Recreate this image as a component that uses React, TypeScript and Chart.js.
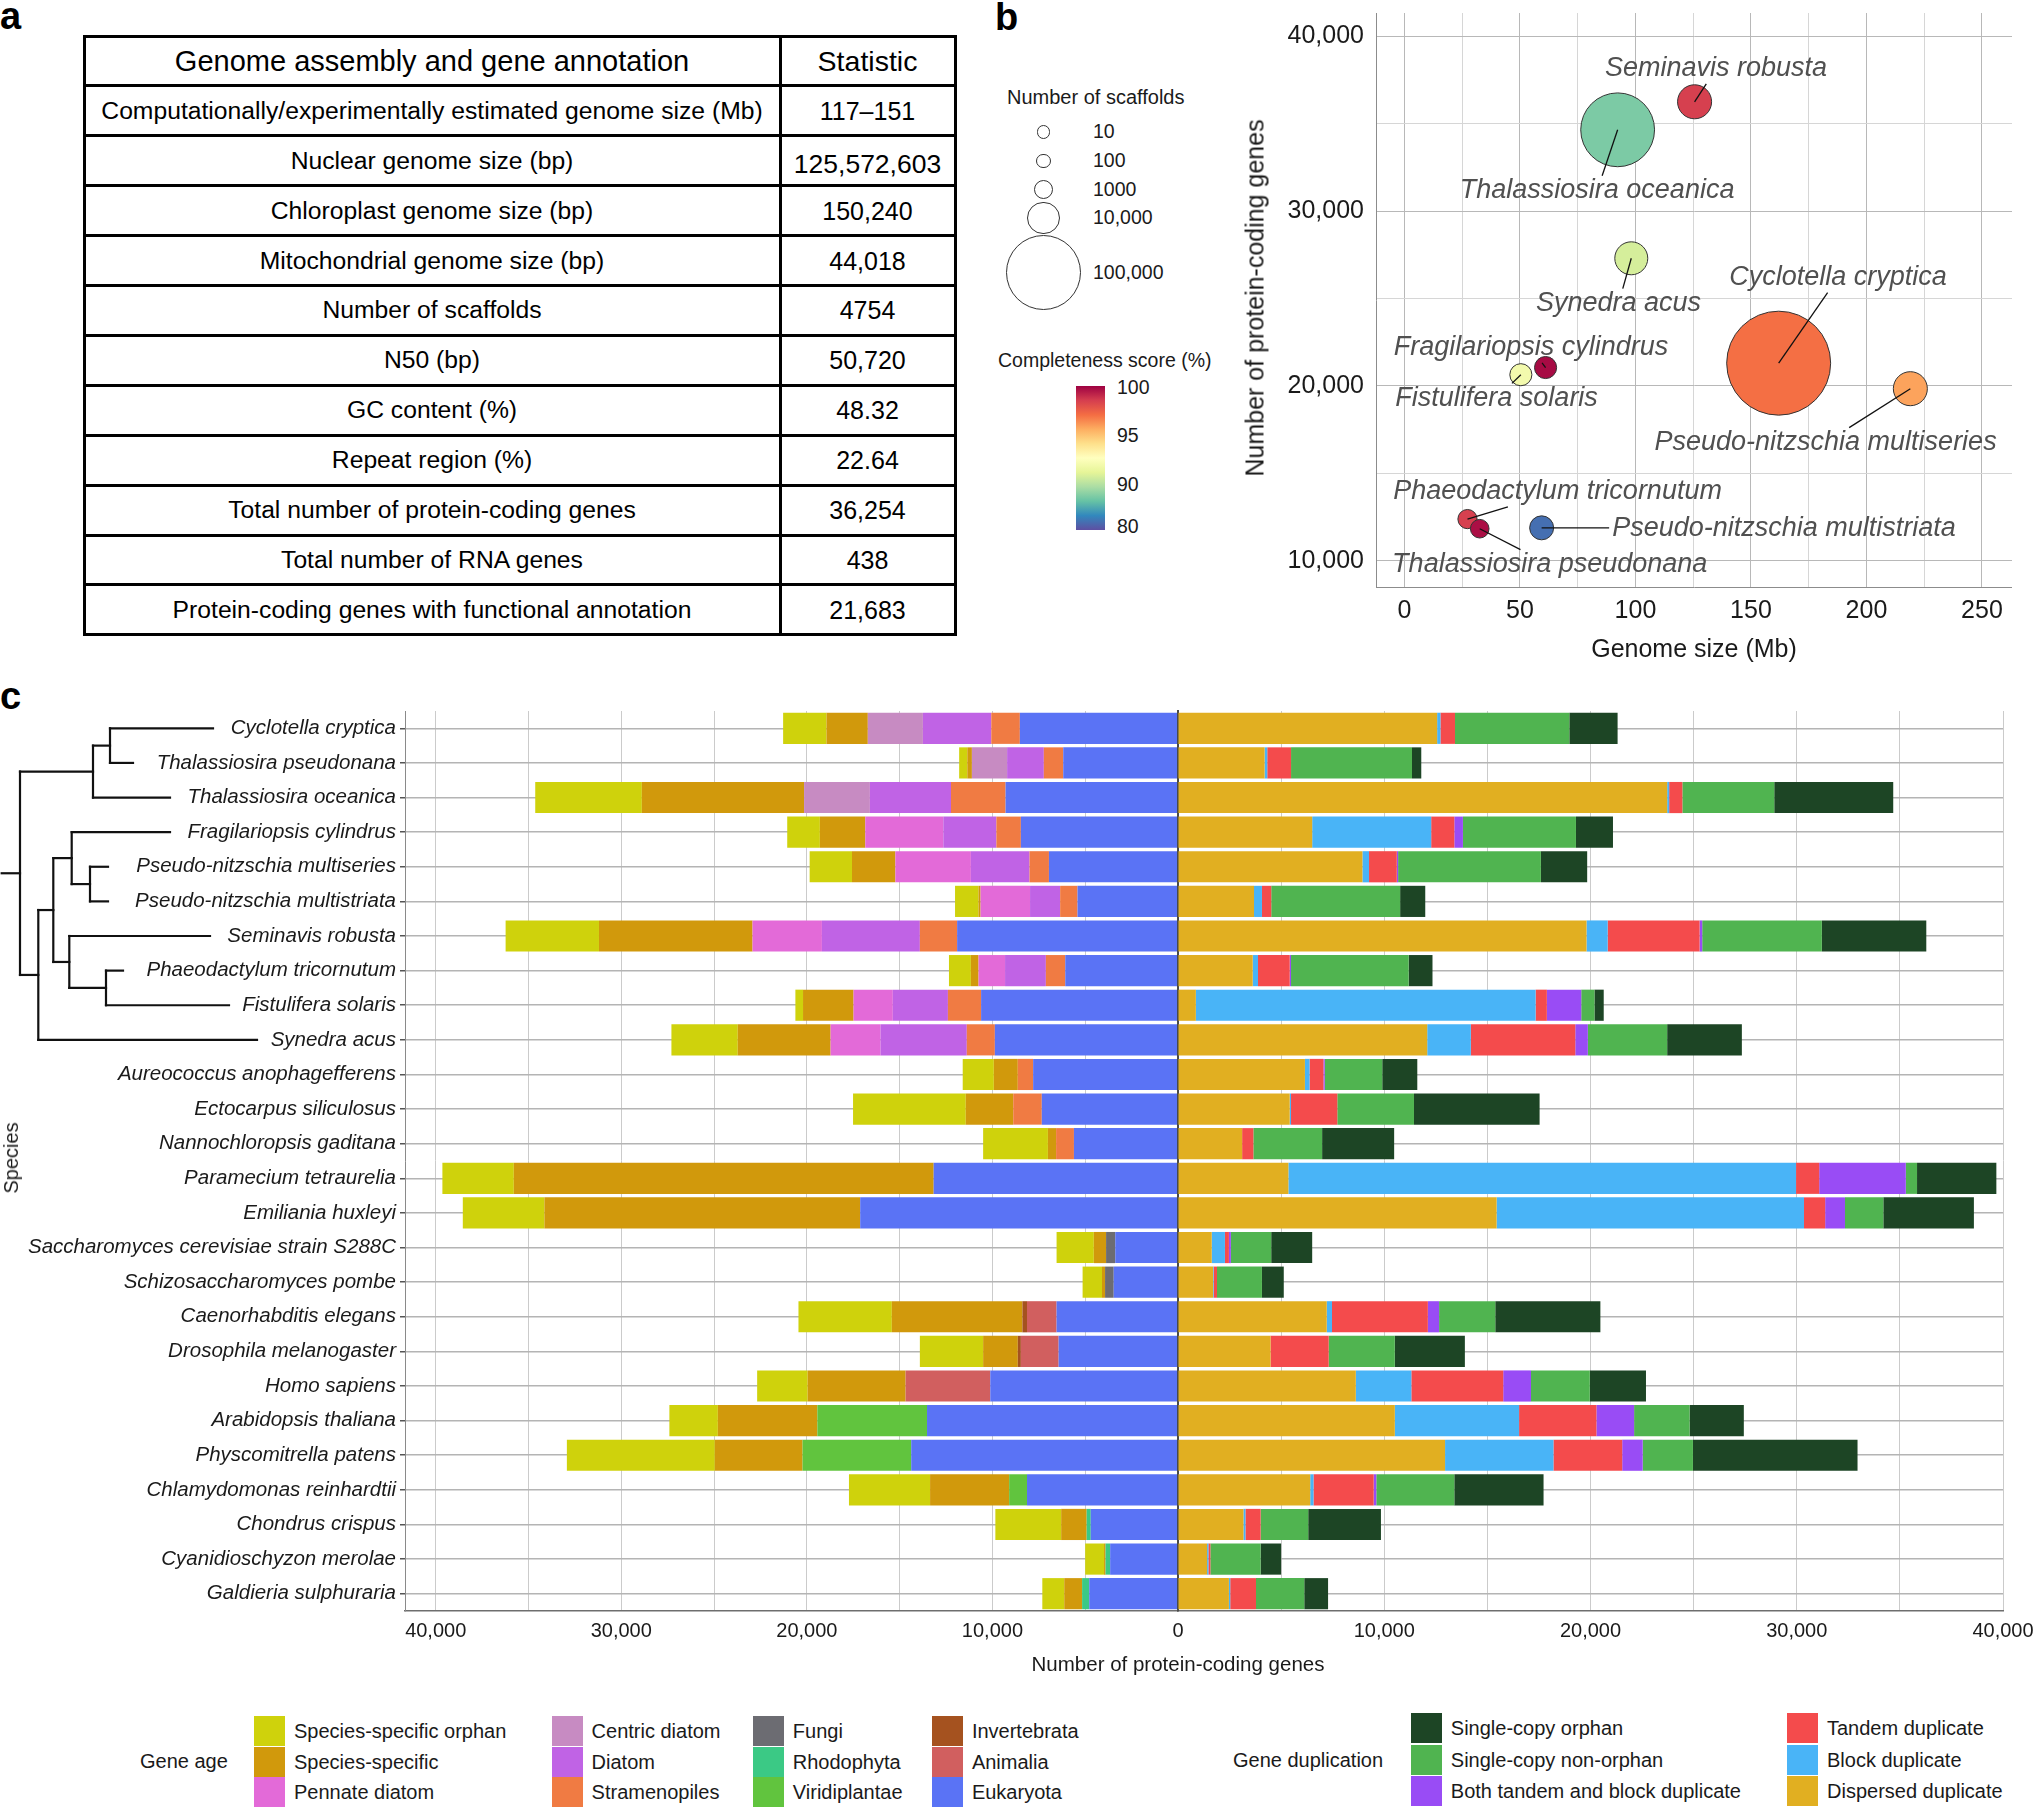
import React, { useEffect, useRef } from "react";
import { Chart, registerables } from "chart.js";

Chart.register(...registerables);

const FONT = '"Liberation Sans", Arial, Helvetica, sans-serif';
Chart.defaults.font.family = FONT;
Chart.defaults.color = "#1a1a1a";

const fmt = (v: number) => String(Math.round(v)).replace(/\B(?=(\d{3})+(?!\d))/g, ",");
const range = (a: number, b: number, step: number) => {
  const out: number[] = [];
  for (let v = a; v <= b + 1e-9; v += step) out.push(v);
  return out;
};

// ---------------- Panel a : table ----------------
const TABLE_HEADER = ["Genome assembly and gene annotation", "Statistic"];
const TABLE_ITEMS = [
  "Computationally/experimentally estimated genome size (Mb)",
  "Nuclear genome size (bp)",
  "Chloroplast genome size (bp)",
  "Mitochondrial genome size (bp)",
  "Number of scaffolds",
  "N50 (bp)",
  "GC content (%)",
  "Repeat region (%)",
  "Total number of protein-coding genes",
  "Total number of RNA genes",
  "Protein-coding genes with functional annotation",
];
const TABLE_VALUES = ["117–151", "125,572,603", "150,240", "44,018", "4754", "50,720", "48.32", "22.64", "36,254", "438", "21,683"];

// ---------------- Panel b : bubble chart ----------------
const B_SPECIES = [
  "Seminavis robusta",
  "Thalassiosira oceanica",
  "Synedra acus",
  "Cyclotella cryptica",
  "Pseudo-nitzschia multiseries",
  "Fragilariopsis cylindrus",
  "Fistulifera solaris",
  "Phaeodactylum tricornutum",
  "Thalassiosira pseudonana",
  "Pseudo-nitzschia multistriata",
];
const B_GENOME_MB = [125.6, 92.3, 98.2, 162.0, 219.0, 61.1, 50.4, 27.3, 32.6, 59.4];
const B_GENES = [36254, 34650, 27300, 21300, 19840, 21050, 20640, 12380, 11830, 11880];
const B_SCAFFOLDS = [11500, 95000, 10400, 212000, 11500, 2200, 2200, 1050, 860, 3200];
const B_COMPLETENESS = [98.7, 87.3, 90.9, 97.2, 96.0, 100, 92.1, 98.7, 99.9, 81.3];
// label placement (data units) for the repelled labels
const B_LABEL_X = [134.9, 83.4, 92.7, 187.7, 182.3, 54.8, 39.9, 66.3, 62.9, 164.3];
const B_LABEL_Y = [38141, 31161, 24703, 26190, 16756, 22180, 19285, 13936, 9777, 11859];
const B_X_TICKS = range(0, 250, 25);
const B_Y_TICKS = range(10000, 40000, 5000);

const SIZE_LEGEND = [10, 100, 1000, 10000, 100000];
const COMPLETENESS_BREAKS = [80, 90, 95, 100];
const COMPLETENESS_POS = [0.018, 0.31, 0.65, 0.983];
const SPECTRAL = ["#5e4fa2", "#3288bd", "#66c2a5", "#abdda4", "#e6f598", "#ffffbf", "#fee08b", "#fdae61", "#f46d43", "#d53e4f", "#9e0142"];

const bubbleRadius = (n: number) => 6.4 + 0.099 * Math.sqrt(n);

function hexToRgb(h: string) {
  const n = parseInt(h.slice(1), 16);
  return [(n >> 16) & 255, (n >> 8) & 255, n & 255];
}
function spectralAt(p: number) {
  const q = Math.max(0, Math.min(1, p)) * (SPECTRAL.length - 1);
  const i = Math.min(SPECTRAL.length - 2, Math.floor(q));
  const f = q - i;
  const a = hexToRgb(SPECTRAL[i]);
  const b = hexToRgb(SPECTRAL[i + 1]);
  const c = a.map((v, k) => Math.round(v + (b[k] - v) * f));
  return `rgb(${c[0]},${c[1]},${c[2]})`;
}
function completenessPos(v: number) {
  const B = COMPLETENESS_BREAKS;
  const P = COMPLETENESS_POS;
  if (v <= B[0]) return P[0];
  for (let i = 0; i < B.length - 1; i++) {
    if (v <= B[i + 1]) return P[i] + ((v - B[i]) / (B[i + 1] - B[i])) * (P[i + 1] - P[i]);
  }
  return P[P.length - 1];
}
const colorOf = (v: number) => spectralAt(completenessPos(v));

// ---------------- Panel c : stacked bars ----------------
const SPECIES = [
  "Cyclotella cryptica",
  "Thalassiosira pseudonana",
  "Thalassiosira oceanica",
  "Fragilariopsis cylindrus",
  "Pseudo-nitzschia multiseries",
  "Pseudo-nitzschia multistriata",
  "Seminavis robusta",
  "Phaeodactylum tricornutum",
  "Fistulifera solaris",
  "Synedra acus",
  "Aureococcus anophagefferens",
  "Ectocarpus siliculosus",
  "Nannochloropsis gaditana",
  "Paramecium tetraurelia",
  "Emiliania huxleyi",
  "Saccharomyces cerevisiae strain S288C",
  "Schizosaccharomyces pombe",
  "Caenorhabditis elegans",
  "Drosophila melanogaster",
  "Homo sapiens",
  "Arabidopsis thaliana",
  "Physcomitrella patens",
  "Chlamydomonas reinhardtii",
  "Chondrus crispus",
  "Cyanidioschyzon merolae",
  "Galdieria sulphuraria",
];

// gene age (left side), stacked from 0 outward
const EUKARYOTA = [8522, 6185, 9292, 8467, 6955, 5416, 11903, 6075, 10611, 9869, 7807, 7340, 5608, 13167, 17126, 3381, 3464, 6543, 6433, 10116, 13525, 14377, 8137, 4701, 3656, 4783];
const VIRIDIPLANTAE = [0, 0, 0, 0, 0, 0, 0, 0, 0, 0, 0, 0, 0, 0, 0, 0, 0, 0, 0, 0, 5910, 5855, 962, 0, 0, 0];
const RHODOPHYTA = [0, 0, 0, 0, 0, 0, 0, 0, 0, 0, 0, 0, 0, 0, 0, 0, 0, 0, 0, 0, 0, 0, 0, 220, 247, 385];
const FUNGI = [0, 0, 0, 0, 0, 0, 0, 0, 0, 0, 0, 0, 0, 0, 0, 495, 467, 0, 0, 0, 0, 0, 0, 0, 0, 0];
const ANIMALIA = [0, 0, 0, 0, 0, 0, 0, 0, 0, 0, 0, 0, 0, 0, 0, 0, 0, 1594, 2034, 4563, 0, 0, 0, 0, 0, 0];
const INVERTEBRATA = [0, 0, 0, 0, 0, 0, 0, 0, 0, 0, 0, 0, 0, 0, 0, 0, 0, 247, 165, 0, 0, 0, 0, 0, 0, 0];
const STRAMENOPILES = [1540, 1045, 2941, 1320, 1045, 935, 2007, 1045, 1787, 1512, 825, 1539, 962, 0, 0, 0, 0, 0, 0, 0, 0, 0, 0, 0, 0, 0];
const DIATOM = [3684, 1979, 4371, 2859, 3161, 1622, 5278, 2199, 2969, 4646, 0, 0, 0, 0, 0, 0, 0, 0, 0, 0, 0, 0, 0, 0, 0, 0];
const CENTRIC_DIATOM = [2969, 1897, 3546, 0, 0, 0, 0, 0, 0, 0, 0, 0, 0, 0, 0, 0, 0, 0, 0, 0, 0, 0, 0, 0, 0, 0];
const PENNATE_DIATOM = [0, 0, 0, 4206, 4069, 2667, 3739, 1429, 2117, 2694, 0, 0, 0, 0, 0, 0, 0, 0, 0, 0, 0, 0, 0, 0, 0, 0];
const SPECIES_SPECIFIC = [2227, 247, 8742, 2447, 2337, 110, 8275, 412, 2722, 5003, 1292, 2557, 440, 22624, 17016, 660, 165, 7037, 1869, 5278, 5361, 4728, 4261, 1375, 82, 962];
const SPECIES_SPECIFIC_ORPHAN = [2337, 440, 5745, 1759, 2282, 1265, 5031, 1182, 412, 3574, 1677, 6075, 3491, 3849, 4398, 2007, 1045, 5031, 3409, 2722, 2612, 7972, 4371, 3546, 1017, 1182];

// gene duplication (right side), stacked from 0 outward
const DISPERSED = [12564, 4199, 23717, 6506, 8942, 3686, 19807, 3622, 865, 12083, 6154, 5416, 3109, 5352, 15448, 1635, 1699, 7211, 4487, 8621, 10512, 12948, 6410, 3173, 1410, 2468];
const BLOCK = [160, 128, 96, 5769, 320, 385, 1026, 256, 16474, 2115, 224, 64, 0, 24614, 14903, 641, 32, 256, 0, 2692, 6025, 5256, 160, 96, 64, 64];
const TANDEM = [705, 1154, 641, 1122, 1346, 449, 4455, 1538, 545, 5064, 673, 2244, 545, 1122, 1026, 192, 160, 4647, 2820, 4455, 3750, 3333, 2917, 737, 96, 1250];
const BOTH = [0, 0, 0, 417, 64, 0, 128, 64, 1667, 609, 64, 0, 0, 4199, 962, 96, 0, 545, 0, 1346, 1827, 994, 128, 0, 0, 0];
const SINGLE_NON_ORPHAN = [5545, 5865, 4455, 5481, 6923, 6250, 5801, 5705, 641, 3846, 2788, 3718, 3333, 545, 1859, 1955, 2179, 2724, 3205, 2852, 2692, 2436, 3782, 2308, 2436, 2340];
const SINGLE_ORPHAN = [2340, 449, 5769, 1795, 2244, 1218, 5064, 1154, 449, 3622, 1699, 6090, 3493, 3846, 4391, 1987, 1058, 5096, 3397, 2724, 2628, 7980, 4327, 3526, 994, 1154];

const LEFT_MAX = 41655;
const RIGHT_MAX = 40000;
const BAR_TICKS = range(0, 40000, 5000);

const AGE_SERIES: [string, number[], string][] = [
  ["Eukaryota", EUKARYOTA, "#5a73f5"],
  ["Viridiplantae", VIRIDIPLANTAE, "#61c43e"],
  ["Rhodophyta", RHODOPHYTA, "#3bc985"],
  ["Fungi", FUNGI, "#6c6c72"],
  ["Animalia", ANIMALIA, "#d15f5f"],
  ["Invertebrata", INVERTEBRATA, "#a5521f"],
  ["Stramenopiles", STRAMENOPILES, "#f07b43"],
  ["Diatom", DIATOM, "#c063e5"],
  ["Centric diatom", CENTRIC_DIATOM, "#c78bc2"],
  ["Pennate diatom", PENNATE_DIATOM, "#e36ad8"],
  ["Species-specific", SPECIES_SPECIFIC, "#d1990c"],
  ["Species-specific orphan", SPECIES_SPECIFIC_ORPHAN, "#cfd20c"],
];
const DUP_SERIES: [string, number[], string][] = [
  ["Dispersed duplicate", DISPERSED, "#e1af21"],
  ["Block duplicate", BLOCK, "#49b4f7"],
  ["Tandem duplicate", TANDEM, "#f44b4c"],
  ["Both tandem and block duplicate", BOTH, "#994cf5"],
  ["Single-copy non-orphan", SINGLE_NON_ORPHAN, "#50b450"],
  ["Single-copy orphan", SINGLE_ORPHAN, "#1d4525"],
];
const COLOR_BY_NAME: Record<string, string> = {};
[...AGE_SERIES, ...DUP_SERIES].forEach(([n, , c]) => (COLOR_BY_NAME[n] = c));

const AGE_LEGEND = [
  ["Species-specific orphan", "Species-specific", "Pennate diatom"],
  ["Centric diatom", "Diatom", "Stramenopiles"],
  ["Fungi", "Rhodophyta", "Viridiplantae"],
  ["Invertebrata", "Animalia", "Eukaryota"],
];
const DUP_LEGEND = [
  ["Single-copy orphan", "Single-copy non-orphan", "Both tandem and block duplicate"],
  ["Tandem duplicate", "Block duplicate", "Dispersed duplicate"],
];

// dendrogram of the diatoms (branch depth in px from left, tip = row index)
type TNode = { x: number; tip?: number; kids?: TNode[] };
const TREE: TNode = {
  x: 20,
  kids: [
    { x: 93, kids: [{ x: 110, kids: [{ x: 213, tip: 0 }, { x: 133, tip: 1 }] }, { x: 170, tip: 2 }] },
    {
      x: 38.3,
      kids: [
        {
          x: 53.3,
          kids: [
            { x: 71.7, kids: [{ x: 170, tip: 3 }, { x: 90, kids: [{ x: 108, tip: 4 }, { x: 108, tip: 5 }] }] },
            { x: 69.3, kids: [{ x: 210, tip: 6 }, { x: 106, kids: [{ x: 123, tip: 7 }, { x: 229, tip: 8 }] }] },
          ],
        },
        { x: 257, tip: 9 },
      ],
    },
  ],
};
const TREE_ROOT_X = 1.7;

// ---------------- helpers ----------------
type TextProps = {
  x: number;
  y: number;
  size: number;
  children: React.ReactNode;
  align?: "left" | "center";
  italic?: boolean;
  bold?: boolean;
  rotate?: boolean;
  color?: string;
};
function Txt({ x, y, size, children, align = "left", italic, bold, rotate, color = "#1a1a1a" }: TextProps) {
  const tx = align === "center" ? "-50%" : "0";
  return (
    <div
      style={{
        position: "absolute",
        left: x,
        top: y,
        fontSize: size,
        lineHeight: 1,
        whiteSpace: "nowrap",
        fontStyle: italic ? "italic" : "normal",
        fontWeight: bold ? "bold" : "normal",
        color,
        transform: rotate ? "translate(-50%,-50%) rotate(-90deg)" : `translate(${tx},-50%)`,
      }}
    >
      {children}
    </div>
  );
}

function useChart(ref: React.RefObject<HTMLCanvasElement>, make: () => any) {
  useEffect(() => {
    const chart = new Chart(ref.current as HTMLCanvasElement, make());
    return () => chart.destroy();
  }, []);
}

const setTicks = (values: number[]) => (s: any) => {
  s.ticks = values.map((v) => ({ value: v }));
};

// ---------------- Panel b chart ----------------
const bubbleLabelPlugin = {
  id: "bubbleLabels",
  afterDatasetsDraw(chart: any) {
    const { ctx, scales } = chart;
    const xs = scales.x;
    const ys = scales.y;
    ctx.save();
    ctx.font = `italic 27px ${FONT}`;
    ctx.textAlign = "center";
    ctx.textBaseline = "middle";
    B_SPECIES.forEach((name, i) => {
      const px = xs.getPixelForValue(B_GENOME_MB[i]);
      const py = ys.getPixelForValue(B_GENES[i]);
      const lx = xs.getPixelForValue(B_LABEL_X[i]);
      const ly = ys.getPixelForValue(B_LABEL_Y[i]);
      const w = ctx.measureText(name).width / 2 + 3;
      const h = 15;
      const dx = px - lx;
      const dy = py - ly;
      let t = 1;
      if (Math.abs(dx) > 0) t = Math.min(t, w / Math.abs(dx));
      if (Math.abs(dy) > 0) t = Math.min(t, h / Math.abs(dy));
      const ex = lx + dx * t;
      const ey = ly + dy * t;
      const dist = Math.hypot(px - ex, py - ey);
      if (t < 1 && dist > 4) {
        ctx.strokeStyle = "#111";
        ctx.lineWidth = 1.3;
        ctx.beginPath();
        ctx.moveTo(px, py);
        ctx.lineTo(ex, ey);
        ctx.stroke();
      }
      ctx.fillStyle = "#505050";
      ctx.fillText(name, lx, ly);
    });
    ctx.restore();
  },
};

function BubbleChart() {
  const ref = useRef<HTMLCanvasElement>(null);
  useChart(ref, () => ({
    type: "bubble",
    data: {
      datasets: [
        {
          data: B_SPECIES.map((_, i) => ({ x: B_GENOME_MB[i], y: B_GENES[i], r: bubbleRadius(B_SCAFFOLDS[i]) })),
          backgroundColor: B_COMPLETENESS.map(colorOf),
          borderColor: "#333333",
          borderWidth: 1,
          clip: false,
        },
      ],
    },
    options: {
      responsive: false,
      animation: false,
      devicePixelRatio: 1,
      layout: { autoPadding: false, padding: { top: 13, right: 0, left: 0, bottom: 0 } },
      plugins: { legend: { display: false }, tooltip: { enabled: false } },
      scales: {
        x: {
          type: "linear",
          min: -12.3,
          max: 263,
          afterBuildTicks: setTicks(B_X_TICKS),
          ticks: {
            autoSkip: false,
            maxRotation: 0,
            padding: 9,
            font: { size: 25 },
            color: "#1a1a1a",
            callback: (v: number) => (v % 50 === 0 ? String(v) : ""),
          },
          grid: {
            drawTicks: false,
            lineWidth: 1,
            color: (c: any) => (c.tick && c.tick.value % 50 === 0 ? "#b8b8b8" : "#d6d6d6"),
          },
          border: { color: "#8c8c8c", width: 1 },
          afterFit: (s: any) => {
            s.height = 50;
            s.paddingLeft = 0;
            s.paddingRight = 0;
          },
        },
        y: {
          type: "linear",
          min: 8495,
          max: 41333,
          afterBuildTicks: setTicks(B_Y_TICKS),
          ticks: {
            autoSkip: false,
            padding: 12,
            font: { size: 25 },
            color: "#1a1a1a",
            callback: (v: number) => (v % 10000 === 0 ? fmt(v) : ""),
          },
          grid: {
            drawTicks: false,
            lineWidth: 1,
            color: (c: any) => (c.tick && c.tick.value % 10000 === 0 ? "#b8b8b8" : "#d6d6d6"),
          },
          border: { color: "#8c8c8c", width: 1 },
          afterFit: (s: any) => {
            s.width = 120;
            s.paddingTop = 0;
            s.paddingBottom = 0;
          },
        },
      },
    },
    plugins: [bubbleLabelPlugin],
  }));
  return <canvas ref={ref} width={756} height={637} style={{ position: "absolute", left: 1256, top: 0 }} />;
}

// ---------------- Panel c charts ----------------
const treePlugin = {
  id: "tree",
  afterDraw(chart: any) {
    const { ctx } = chart;
    const ys = chart.scales.y;
    ctx.save();
    ctx.strokeStyle = "#111";
    ctx.lineWidth = 2.2;
    ctx.lineCap = "square";
    const line = (x1: number, y1: number, x2: number, y2: number) => {
      ctx.beginPath();
      ctx.moveTo(x1, y1);
      ctx.lineTo(x2, y2);
      ctx.stroke();
    };
    const draw = (node: TNode, parentX: number): number => {
      let y: number;
      if (node.tip !== undefined) {
        y = ys.getPixelForValue(node.tip);
      } else {
        const kidYs = (node.kids || []).map((k) => draw(k, node.x));
        const lo = Math.min(...kidYs);
        const hi = Math.max(...kidYs);
        line(node.x, lo, node.x, hi);
        y = (lo + hi) / 2;
      }
      line(parentX, y, node.x, y);
      return y;
    };
    draw(TREE, TREE_ROOT_X);
    ctx.restore();
  },
};

function barConfig(side: "left" | "right") {
  const series = side === "left" ? AGE_SERIES : DUP_SERIES;
  return {
    type: "bar",
    data: {
      labels: SPECIES,
      datasets: series.map(([name, values, color]) => ({
        label: name,
        data: values,
        backgroundColor: color,
        borderWidth: 0,
        barPercentage: 0.9,
        categoryPercentage: 1,
      })),
    },
    options: {
      indexAxis: "y",
      responsive: false,
      animation: false,
      devicePixelRatio: 1,
      layout: { autoPadding: false, padding: { top: 21, right: side === "left" ? 0 : 32, left: 0, bottom: 0 } },
      plugins: { legend: { display: false }, tooltip: { enabled: false } },
      scales: {
        x: {
          type: "linear",
          stacked: true,
          reverse: side === "left",
          min: 0,
          max: side === "left" ? LEFT_MAX : RIGHT_MAX,
          afterBuildTicks: setTicks(BAR_TICKS),
          ticks: {
            autoSkip: false,
            maxRotation: 0,
            padding: 8,
            font: { size: 20 },
            color: "#1a1a1a",
            callback: (v: number) => (v % 10000 === 0 && !(side === "left" && v === 0) ? fmt(v) : ""),
          },
          grid: { drawTicks: false, color: "#cbcbcb", lineWidth: 1 },
          border: { color: "#6e6e6e", width: 1.5 },
          afterFit: (s: any) => {
            s.height = 55;
            s.paddingLeft = 0;
            s.paddingRight = 0;
          },
        },
        y: {
          type: "category",
          stacked: true,
          ticks:
            side === "left"
              ? { autoSkip: false, padding: 4, font: { size: 20.5, style: "italic" }, color: "#1a1a1a" }
              : { display: false },
          grid: {
            offset: false,
            color: "#b4b4b4",
            lineWidth: 1.5,
            drawTicks: side === "left",
            tickLength: 5,
            tickColor: "#555",
          },
          border: side === "left" ? { color: "#8a8a8a", width: 1 } : { color: "#4a4a4a", width: 2 },
          afterFit: (s: any) => {
            s.width = side === "left" ? 405 : 20;
            s.paddingTop = 0;
            s.paddingBottom = 0;
          },
        },
      },
    },
    plugins: side === "left" ? [treePlugin] : [],
  };
}

function BarLeft() {
  const ref = useRef<HTMLCanvasElement>(null);
  useChart(ref, () => barConfig("left"));
  return <canvas ref={ref} width={1178} height={976} style={{ position: "absolute", left: 0, top: 690 }} />;
}
function BarRight() {
  const ref = useRef<HTMLCanvasElement>(null);
  useChart(ref, () => barConfig("right"));
  return <canvas ref={ref} width={877} height={976} style={{ position: "absolute", left: 1158, top: 690 }} />;
}

// ---------------- Page ----------------
function Table() {
  const left = 84;
  const top = 36;
  const colX = 780;
  const right = 955;
  const rowH = 49.9;
  const rows = [TABLE_HEADER, ...TABLE_ITEMS.map((t, i) => [t, TABLE_VALUES[i]])];
  const lines: React.ReactNode[] = [];
  for (let r = 0; r <= rows.length; r++) {
    lines.push(
      <div key={"h" + r} style={{ position: "absolute", left: left - 1.5, top: top + r * rowH - 1.5, width: right - left + 3, height: 3, background: "#000" }} />
    );
  }
  [left, colX, right].forEach((x, i) =>
    lines.push(
      <div key={"v" + i} style={{ position: "absolute", left: x - 1.5, top: top - 1.5, width: 3, height: rows.length * rowH + 3, background: "#000" }} />
    )
  );
  return (
    <>
      {rows.map((r, i) => {
        const cy = top + (i + 0.5) * rowH;
        const size = i === 0 ? 29 : 24.7;
        return (
          <React.Fragment key={i}>
            <Txt x={(left + colX) / 2} y={cy} size={size} align="center" color="#000">
              {r[0]}
            </Txt>
            <Txt x={(colX + right) / 2} y={cy + (i === 2 ? 3 : 0)} size={i === 2 ? 26.5 : i === 0 ? 28.5 : 25} align="center" color="#000">
              {r[1]}
            </Txt>
          </React.Fragment>
        );
      })}
      {lines}
    </>
  );
}

function BubbleLegend() {
  const rowY = [132, 161, 189.5, 218, 272.6];
  const cbTop = 385.5;
  const cbBottom = 529.6;
  const gradient = `linear-gradient(to top, ${SPECTRAL.map((c, i) => `${c} ${(i / (SPECTRAL.length - 1)) * 100}%`).join(", ")})`;
  return (
    <>
      <Txt x={1007} y={97} size={20}>Number of scaffolds</Txt>
      {SIZE_LEGEND.map((n, i) => {
        const r = bubbleRadius(n);
        return (
          <React.Fragment key={n}>
            <div
              style={{
                position: "absolute",
                left: 1043.5 - r,
                top: rowY[i] - r,
                width: 2 * r,
                height: 2 * r,
                boxSizing: "border-box",
                border: "1.2px solid #333",
                borderRadius: "50%",
              }}
            />
            <Txt x={1093} y={rowY[i]} size={19.5}>{n >= 10000 ? fmt(n) : String(n)}</Txt>
          </React.Fragment>
        );
      })}
      <Txt x={998} y={361} size={19.5}>Completeness score (%)</Txt>
      <div style={{ position: "absolute", left: 1076, top: cbTop, width: 28.5, height: cbBottom - cbTop, background: gradient }} />
      {COMPLETENESS_BREAKS.map((v) => (
        <Txt key={v} x={1117} y={cbBottom - completenessPos(v) * (cbBottom - cbTop)} size={19.5}>
          {String(v)}
        </Txt>
      ))}
    </>
  );
}

function BarLegend() {
  const ageX = [254, 551.6, 752.8, 931.9];
  const ageY = [1716, 1746.5, 1777];
  const dupX = [1410.8, 1787];
  const dupY = [1713, 1744.5, 1776];
  const sw = 31;
  const sh = 30;
  const key = (name: string, x: number, y: number) => (
    <React.Fragment key={name}>
      <div style={{ position: "absolute", left: x, top: y, width: sw, height: sh, background: COLOR_BY_NAME[name] }} />
      <Txt x={x + 40} y={y + sh / 2} size={20}>{name}</Txt>
    </React.Fragment>
  );
  return (
    <>
      <Txt x={140} y={1761} size={20}>Gene age</Txt>
      {AGE_LEGEND.map((col, c) => col.map((n, r) => key(n, ageX[c], ageY[r])))}
      <Txt x={1233} y={1760} size={20}>Gene duplication</Txt>
      {DUP_LEGEND.map((col, c) => col.map((n, r) => key(n, dupX[c], dupY[r])))}
    </>
  );
}

export default function App() {
  return (
    <div
      style={{
        position: "absolute",
        left: 0,
        top: 0,
        width: 2035,
        height: 1808,
        background: "#fff",
        overflow: "hidden",
        fontFamily: FONT,
      }}
    >
      <Txt x={0} y={16} size={38} bold color="#000">a</Txt>
      <Txt x={995} y={17} size={38} bold color="#000">b</Txt>
      <Txt x={0} y={696} size={38} bold color="#000">c</Txt>

      <Table />

      <BubbleChart />
      <BubbleLegend />
      <Txt x={1694} y={648} size={25} align="center">Genome size (Mb)</Txt>
      <Txt x={1255} y={298} size={25} rotate>Number of protein-coding genes</Txt>

      <BarLeft />
      <BarRight />
      <Txt x={11} y={1158} size={20} rotate>Species</Txt>
      <Txt x={1178} y={1664} size={20.5} align="center">Number of protein-coding genes</Txt>
      <BarLegend />
    </div>
  );
}
